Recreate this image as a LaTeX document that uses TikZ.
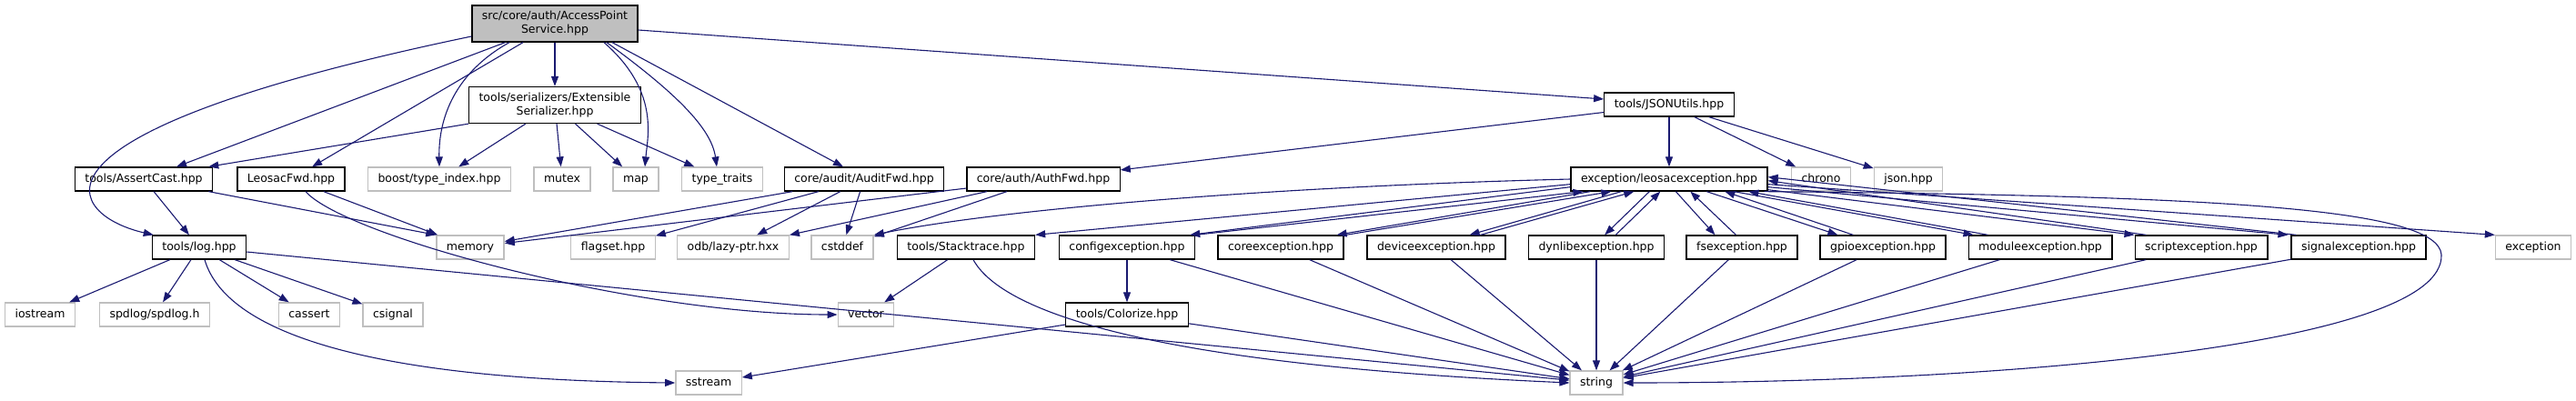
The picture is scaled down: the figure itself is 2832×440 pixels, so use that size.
\documentclass[tikz,border=0pt]{standalone}
\usepackage{fontspec}
\setmainfont{DejaVu Sans}
\usetikzlibrary{arrows.meta}
\definecolor{Edge}{HTML}{191970}
\definecolor{Ext}{HTML}{BFBFBF}
\definecolor{Top}{HTML}{BFBFBF}

\begin{document}
\begin{tikzpicture}[x=1pt,y=-1pt,
  filebox/.style={font=\fontsize{12.5}{15}\selectfont,inner xsep=11pt,inner ysep=0pt,fill=white,line width=1.3pt},
  docbox/.style={filebox,draw=black,minimum height=26pt,text height=9.5pt,text depth=2.5pt},
  extbox/.style={filebox,draw=Ext,minimum height=26pt,text height=9.5pt,text depth=2.5pt},
  twobox/.style={filebox,draw=black,align=center,minimum height=40pt},
  incl/.style={draw=Edge,line width=1.1pt,-{Triangle[length=11pt,width=8pt]}}]
  \useasboundingbox (0,0) rectangle (2832,440);

  % top rows
  \node[twobox,fill=Top] (root) at (610,26) {src/core/auth/AccessPoint\\Service.hpp};
  \node[twobox] (extser) at (610,115.5) {tools/serializers/Extensible\\Serializer.hpp};
  \node[docbox] (jsonutils) at (1835,115) {tools/JSONUtils.hpp};

  \node[docbox] (assertcast) at (158,197) {tools/AssertCast.hpp};
  \node[docbox] (leosacfwd) at (320,197) {LeosacFwd.hpp};
  \node[extbox] (typeindex) at (483,197) {boost/type\_index.hpp};
  \node[extbox] (mutex) at (618,197) {mutex};
  \node[extbox] (map) at (699,197) {map};
  \node[extbox] (typetraits) at (794,197) {type\_traits};
  \node[docbox] (auditfwd) at (950,197) {core/audit/AuditFwd.hpp};
  \node[docbox] (authfwd) at (1147,197) {core/auth/AuthFwd.hpp};
  \node[docbox] (leosacexc) at (1835,197) {exception/leosacexception.hpp};
  \node[extbox] (chrono) at (2002,197) {chrono};
  \node[extbox] (jsonhpp) at (2098,197) {json.hpp};

  % third row
  \node[docbox] (logh) at (219,272) {tools/log.hpp};
  \node[extbox] (memory) at (517,272) {memory};
  \node[extbox] (flagset) at (674,272) {flagset.hpp};
  \node[extbox] (lazyptr) at (806,272) {odb/lazy-ptr.hxx};
  \node[extbox] (cstddef) at (926,272) {cstddef};
  \node[docbox] (stacktrace) at (1062,272) {tools/Stacktrace.hpp};
  \node[docbox] (configexc) at (1239,272) {configexception.hpp};
  \node[docbox] (coreexc) at (1408,272) {coreexception.hpp};
  \node[docbox] (deviceexc) at (1579,272) {deviceexception.hpp};
  \node[docbox] (dynlibexc) at (1755,272) {dynlibexception.hpp};
  \node[docbox] (fsexc) at (1915,272) {fsexception.hpp};
  \node[docbox] (gpioexc) at (2070,272) {gpioexception.hpp};
  \node[docbox] (moduleexc) at (2243,272) {moduleexception.hpp};
  \node[docbox] (scriptexc) at (2420,272) {scriptexception.hpp};
  \node[docbox] (signalexc) at (2593,272) {signalexception.hpp};
  \node[extbox] (exception) at (2785,272) {exception};

  % bottom rows
  \node[extbox] (iostream) at (44,346) {iostream};
  \node[extbox] (spdlog) at (170,346) {spdlog/spdlog.h};
  \node[extbox] (cassert) at (340,346) {cassert};
  \node[extbox] (csignal) at (432,346) {csignal};
  \node[extbox] (vector) at (952,346) {vector};
  \node[docbox] (colorize) at (1239,346) {tools/Colorize.hpp};
  \node[extbox] (sstream) at (779,421) {sstream};
  \node[extbox] (string) at (1755,421) {string};

  % plain includes
  \foreach \a/\b in {root/assertcast, root/leosacfwd, root/extser,
      extser/typeindex, extser/mutex, extser/map, extser/typetraits,
      assertcast/logh, leosacfwd/memory,
      auditfwd/memory, auditfwd/flagset, auditfwd/lazyptr, auditfwd/cstddef,
      authfwd/memory, authfwd/lazyptr, authfwd/cstddef,
      jsonutils/authfwd, jsonutils/leosacexc, jsonutils/chrono, jsonutils/jsonhpp,
      logh/iostream, logh/spdlog, logh/cassert, logh/csignal, logh/string,
      stacktrace/vector, configexc/colorize, colorize/sstream, colorize/string,
      configexc/string, coreexc/string, deviceexc/string, dynlibexc/string,
      fsexc/string, gpioexc/string, moduleexc/string, scriptexc/string, signalexc/string}
    \draw[incl] (\a) -- (\b);

  % includes that need other ends
  \draw[incl] ([yshift=-7pt]root.east) -- ([yshift=6pt]jsonutils.west);
  \draw[incl] ([xshift=63pt]root.south) -- ([xshift=-23pt]auditfwd.north);
  \draw[incl] ([xshift=-50pt]root.south) .. controls (500,80) and (482,130) .. (typeindex.north);
  \draw[incl] ([xshift=54pt]root.south) .. controls (725,100) and (712,150) .. ([xshift=10pt]map.north);
  \draw[incl] ([xshift=57pt]root.south) .. controls (740,100) and (782,140) .. ([xshift=-6pt]typetraits.north);
  \draw[incl] ([yshift=-14pt]root.west) .. controls (-10,150) and (80,238) .. ([xshift=2pt]logh.north west);
  \draw[incl] (extser.south west) -- ([xshift=-5pt]assertcast.north east);
  \draw[incl] (assertcast) -- (memory.north west);
  \draw[incl] ([xshift=16pt]leosacfwd.south) .. controls (380,260) and (700,346) .. (vector.west);
  \draw[incl] ([xshift=6pt]logh.south) .. controls (250,370) and (420,418) .. (sstream.west);
  \draw[incl] ([xshift=8pt]stacktrace.south) .. controls (1100,340) and (1250,400) .. (string.west);
  \draw[incl] (leosacexc.west) .. controls (1400,205) and (1100,230) .. (cstddef.north east);
  \draw[incl] ([yshift=8pt]leosacexc.south west) -- (stacktrace.north east);
  \draw[incl] ([yshift=8pt]leosacexc.south east) -- (exception.north west);
  \draw[incl] ([xshift=-4pt]leosacexc.south east) .. controls (2450,215) and (2680,230) .. (2684,280)
    .. controls (2688,380) and (2200,421) .. (string.east);

  % leosacexception <-> exception headers
  \draw[incl] ([yshift=5pt]leosacexc.south west) -- ([xshift=-6pt]configexc.north east);
  \draw[incl] (configexc.north east) -- ([xshift=14pt]leosacexc.south west);
  \draw[incl] ([xshift=22pt]leosacexc.south west) -- ([xshift=-8pt]coreexc.north east);
  \draw[incl] ([xshift=2pt]coreexc.north east) -- ([xshift=45pt]leosacexc.south west);
  \draw[incl] ([xshift=56pt]leosacexc.south west) -- ([xshift=-40pt]deviceexc.north east);
  \draw[incl] ([xshift=-28pt]deviceexc.north east) -- ([xshift=70pt]leosacexc.south west);
  \draw[incl] ([xshift=87pt]leosacexc.south west) -- ([xshift=-66pt]dynlibexc.north east);
  \draw[incl] ([xshift=-54pt]dynlibexc.north east) -- ([xshift=99pt]leosacexc.south west);
  \draw[incl] ([xshift=116pt]leosacexc.south west) -- ([xshift=32pt]fsexc.north west);
  \draw[incl] ([xshift=55pt]fsexc.north west) -- ([xshift=132pt]leosacexc.south west);
  \draw[incl] ([xshift=150pt]leosacexc.south west) -- ([xshift=20pt]gpioexc.north west);
  \draw[incl] ([xshift=37pt]gpioexc.north west) -- ([xshift=170pt]leosacexc.south west);
  \draw[incl] ([xshift=180pt]leosacexc.south west) -- ([xshift=6pt]moduleexc.north west);
  \draw[incl] ([xshift=22pt]moduleexc.north west) -- ([xshift=196pt]leosacexc.south west);
  \draw[incl] ([yshift=2pt]leosacexc.south east) -- (scriptexc.north west);
  \draw[incl] ([xshift=13pt]scriptexc.north west) -- ([yshift=12pt]leosacexc.south east);
  \draw[incl] ([yshift=5pt]leosacexc.south east) -- ([xshift=-3pt]signalexc.north west);
  \draw[incl] ([xshift=6pt]signalexc.north west) -- ([yshift=16pt]leosacexc.south east);
\end{tikzpicture}
\end{document}
